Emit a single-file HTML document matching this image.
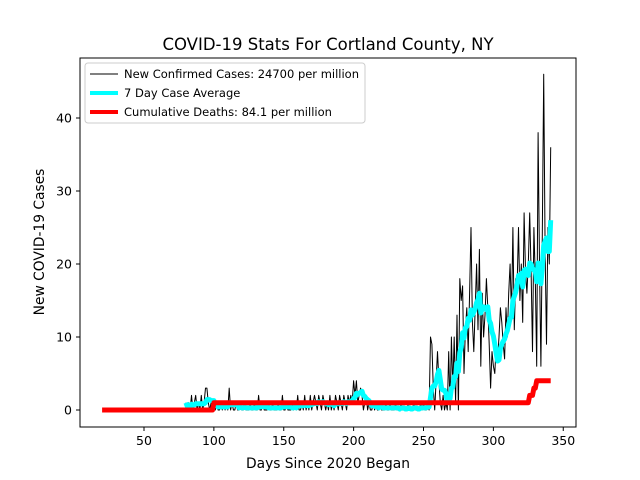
<!DOCTYPE html>
<html><head><meta charset="utf-8"><style>
body{margin:0;background:#fff}
svg{display:block;font-family:"DejaVu Sans","Liberation Sans",sans-serif}
</style></head><body>
<svg id="chart" width="640" height="480">
<rect width="640" height="480" fill="#fff"/>
<text x="328" y="50" text-anchor="middle" font-size="16.5">COVID-19 Stats For Cortland County, NY</text>
<g id="plot"></g>
<rect x="80" y="58" width="496" height="369" fill="none" stroke="#000" stroke-width="1"/>
<g id="ticks"></g>
<text x="328" y="468" text-anchor="middle" font-size="13.8">Days Since 2020 Began</text>
<text transform="translate(44,242) rotate(-90)" text-anchor="middle" font-size="13.8">New COVID-19 Cases</text>
<g>
<rect x="85" y="63" width="280" height="60" rx="3" fill="#fff" fill-opacity="0.8" stroke="#ccc"/>
<line x1="90" y1="74" x2="118" y2="74" stroke="#000" stroke-width="1"/>
<text x="124" y="78" font-size="11.5" textLength="235" lengthAdjust="spacingAndGlyphs">New Confirmed Cases: 24700 per million</text>
<line x1="90" y1="93" x2="118" y2="93" stroke="#00ffff" stroke-width="4"/>
<text x="124" y="97" font-size="11.5">7 Day Case Average</text>
<line x1="90" y1="112" x2="118" y2="112" stroke="#ff0000" stroke-width="4"/>
<text x="124" y="116" font-size="11.5">Cumulative Deaths: 84.1 per million</text>
</g>
</svg>
<script>
const caseStartDay = 80;
// days 80-199 (120 values)
const casesEarly = [
1,0,1,0,2,0,1,2,0,1,0,2,0,1,3,3,1,0,1,0,
1,0,1,0,0,1,0,1,0,1,0,3,0,1,0,0,1,0,0,1,
0,0,1,0,0,0,1,0,0,1,0,0,2,0,0,1,0,0,0,1,
0,0,1,0,0,0,1,0,0,2,0,0,1,0,0,0,1,0,1,0,
2,0,0,1,0,2,0,1,0,2,0,1,2,1,0,2,1,0,2,1,
0,1,0,2,0,1,0,2,1,0,2,1,0,2,1,0,2,1,2,1];
// days 200-253 (54 values)
const casesMid = [
4,2,4,1,2,3,2,0,1,2,
0,1,0,0,1,0,1,0,0,1,
0,0,0,1,0,0,1,0,0,0,
1,0,0,0,1,0,0,0,0,1,
0,0,0,1,0,0,0,0,1,0,
1,0,0,1];
// days 254-341
const casesLate = [
0,10,9,3,0,4,8,4,1,0,
2,0,1,0,8,0,10,3,10,1,
13,0,18,15,17,5,11,14,8,16,
25,12,8,14,20,11,22,6,16,10,
13,18,14,9,3,8,6,5,9,7,
10,14,12,9,7,14,10,16,20,13,
25,11,18,17,25,15,20,12,27,19,
16,20,27,19,8,25,18,6,38,20,
6,24,46,22,9,25,20,36];
const cases = casesEarly.concat(casesMid, casesLate);
const deathStartDay = 20;
const deathSteps = [[20,0],[100,1],[326,2],[329,3],[331,4],[341,4]];
const xTicks = [50,100,150,200,250,300,350];
const yTicks = [0,10,20,30,40];

function xs(d){return 144+(d-50)*1.3975;}
function ys(v){return 410-v*7.3;}
const NS="http://www.w3.org/2000/svg";
const plot=document.getElementById('plot');
const tk=document.getElementById('ticks');

function addLine(pts,color,w,name){
  const p=document.createElementNS(NS,'polyline');
  p.setAttribute('points',pts.map(q=>xs(q[0]).toFixed(1)+','+ys(q[1]).toFixed(1)).join(' '));
  p.setAttribute('fill','none');p.setAttribute('stroke',color);p.setAttribute('stroke-width',w);
  p.setAttribute('stroke-linejoin','round');
  
  
  plot.appendChild(p);
}
const casePts=cases.map((v,i)=>[caseStartDay+i,v]);
const avgPts=cases.map((v,i)=>{const s=cases.slice(Math.max(0,i-6),i+1);return [caseStartDay+i,s.reduce((a,b)=>a+b,0)/s.length];});
const deathPts=[];
for(let d=deathStartDay;d<=deathSteps[deathSteps.length-1][0];d++){let v=0;deathSteps.forEach(s=>{if(d>=s[0])v=s[1];});deathPts.push([d,v]);}
addLine(casePts,'#000',1,'cases-line');
addLine(avgPts,'#00ffff',5,'average-line');
addLine(deathPts,'#ff0000',5,'deaths-line');

xTicks.forEach(t=>{
  const x=xs(t);
  const l=document.createElementNS(NS,'line');
  l.setAttribute('x1',x);l.setAttribute('x2',x);l.setAttribute('y1',427);l.setAttribute('y2',431);l.setAttribute('stroke','#000');
  
  
  tk.appendChild(l);
  const tx=document.createElementNS(NS,'text');
  tx.setAttribute('x',x);tx.setAttribute('y',445);tx.setAttribute('text-anchor','middle');tx.setAttribute('font-size','12.5');
  tx.textContent=t;
  
  
  tk.appendChild(tx);
});
yTicks.forEach(t=>{
  const y=ys(t);
  const l=document.createElementNS(NS,'line');
  l.setAttribute('x1',76);l.setAttribute('x2',80);l.setAttribute('y1',y);l.setAttribute('y2',y);l.setAttribute('stroke','#000');
  
  
  tk.appendChild(l);
  const tx=document.createElementNS(NS,'text');
  tx.setAttribute('x',72);tx.setAttribute('y',y+4.5);tx.setAttribute('text-anchor','end');tx.setAttribute('font-size','12.5');
  tx.textContent=t;
  
  
  tk.appendChild(tx);
});
</script>
</body></html>
